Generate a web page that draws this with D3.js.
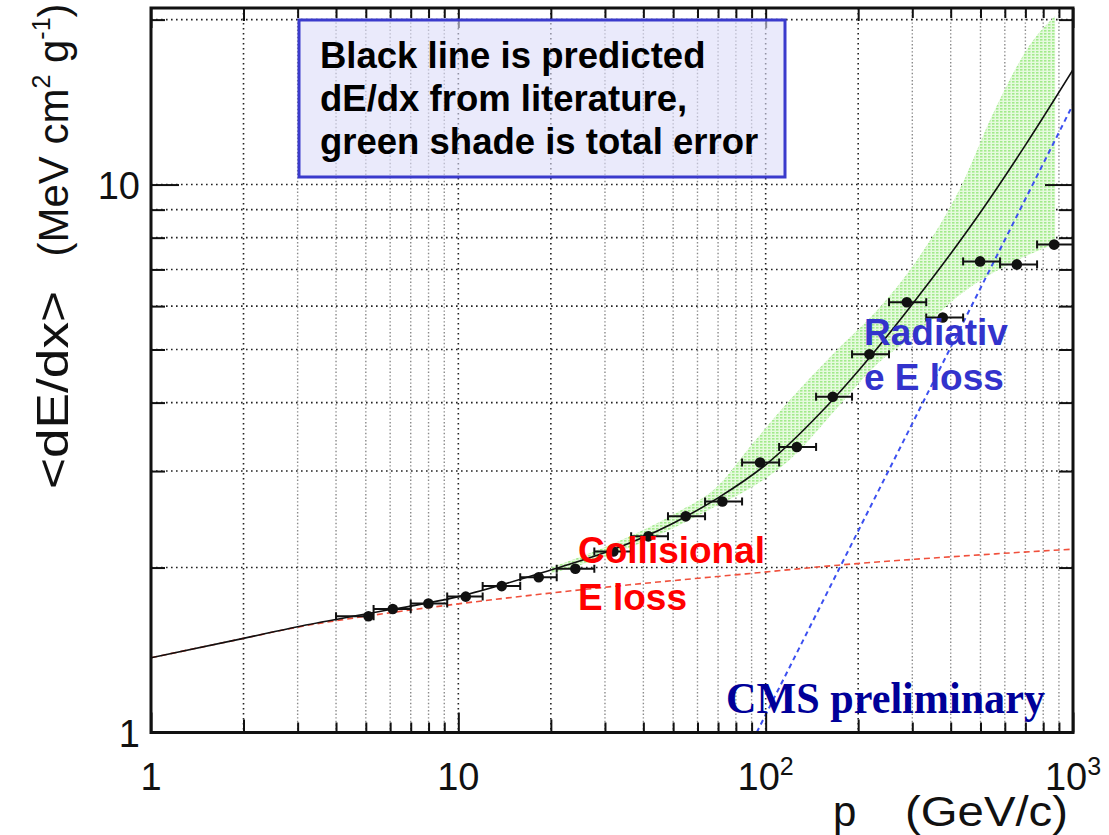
<!DOCTYPE html>
<html><head><meta charset="utf-8">
<script src="https://cdn.jsdelivr.net/npm/d3@7"></script>
<style>
  body { margin: 0; background: #fff; }
  svg { display: block; font-family: "Liberation Sans", Arial, Helvetica, sans-serif; }
</style>
</head><body>
<svg id="chart" width="1109" height="835"></svg>
<script>
// Measured mean energy loss per momentum bin (p in GeV/c, <dE/dx> in MeV cm^2 g^-1)
const binLow  = [4.0, 5.3, 7.0, 9.2, 12.0, 15.9, 20.9, 27.7, 36.5, 48.1, 63.5, 83.8, 110.6, 145.9, 191, 252, 333, 439, 579, 764];
const binHigh = [5.3, 7.0, 9.2, 12.0, 15.9, 20.9, 27.7, 36.5, 48.1, 63.5, 83.8, 110.6, 145.9, 191, 252, 333, 439, 579, 764, 1000];
const pMean   = [5.10, 6.12, 7.99, 10.57, 13.84, 18.26, 24.03, 31.94, 41.52, 54.95, 72.3, 95.9, 126.3, 165.3, 217.6, 287.9, 376.9, 498.6, 656.5, 868];
const dedxMeas = [1.63, 1.68, 1.72, 1.77, 1.85, 1.92, 1.99, 2.14, 2.28, 2.48, 2.64, 3.11, 3.32, 4.10, 4.90, 6.10, 5.72, 7.24, 7.15, 7.77];

// Predicted total dE/dx from literature
const pTotal    = [1, 2, 3, 5, 10, 20, 30, 50, 70, 100, 150, 200, 300, 500, 700, 1000];
const dedxTotal = [1.369, 1.485, 1.56, 1.645, 1.77, 1.98, 2.13, 2.41, 2.68, 3.08, 3.82, 4.57, 6.05, 8.9, 11.8, 16.2];

// Collisional component
const pColl    = [1, 2, 3, 5, 10, 20, 36, 89, 172, 500, 1000];
const dedxColl = [1.369, 1.485, 1.557, 1.63, 1.717, 1.797, 1.86, 1.951, 2.02, 2.11, 2.161];

// Radiative component (straight in log-log)
const pRad    = [93.5, 1000];
const dedxRad = [1.0, 14.0];

// Total error band around the prediction
const bandP  = [20, 30, 50, 70, 90, 120, 170, 230, 310, 430, 550, 740, 875];
const bandLo = [1.95, 2.09, 2.36, 2.6, 2.8, 3.15, 3.9, 4.7, 5.35, 6.3, 6.9, 7.5, 7.8];
const bandHi = [2.00, 2.18, 2.50, 2.82, 3.35, 4.05, 4.98, 5.89, 7.27, 9.87, 13.5, 18.3, 20.3];

// Axis ticks
const xMajor = [1, 10, 100, 1000];
const xMid   = [2, 20, 200];
const xMinor = [3, 4, 5, 6, 7, 8, 9, 30, 40, 50, 60, 70, 80, 90, 300, 400, 500, 600, 700, 800, 900];
const yMajor = [10];
const yMinor = [2, 3, 4, 5, 6, 7, 8, 9, 20];
const xTickLabels = [{v: 1, base: "1", exp: ""}, {v: 10, base: "10", exp: ""}, {v: 100, base: "10", exp: "2"}, {v: 1000, base: "10", exp: "3"}];
const yTickLabels = [{v: 1, t: "1"}, {v: 10, t: "10"}];

const svg = d3.select("#chart");
const L = 151, R = 1073, T = 8, B = 732.5;
const x = d3.scaleLog().domain([1, 1000]).range([L, R]);
const y = d3.scaleLog().domain([1, 21]).range([B, T]);

const defs = svg.append("defs");
defs.append("clipPath").attr("id", "plotClip")
  .append("rect").attr("x", L).attr("y", T).attr("width", R - L).attr("height", B - T);
const pat = defs.append("pattern").attr("id", "greenShade")
  .attr("width", 4).attr("height", 3).attr("patternUnits", "userSpaceOnUse");
pat.append("rect").attr("width", 4).attr("height", 3).attr("fill", "#e6fade");
pat.append("rect").attr("width", 2.5).attr("height", 1.6).attr("fill", "#a2ea8c");

const plot = svg.append("g").attr("clip-path", "url(#plotClip)");

// Grid lines
const darkX = new Set([2, 10, 20, 100, 200]);
const xGrid = xMid.concat(xMinor, [10, 100]);
plot.append("g").selectAll("line").data(xGrid).join("line")
  .attr("x1", d => x(d)).attr("x2", d => x(d)).attr("y1", T).attr("y2", B)
  .attr("stroke", d => darkX.has(d) ? "#222" : "#8a8a8a")
  .attr("stroke-width", d => darkX.has(d) ? 1.6 : 1.4)
  .attr("stroke-dasharray", d => darkX.has(d) ? "1.6,3.4" : "1.4,2.2");
plot.append("g").selectAll("line").data(yMinor.concat(yMajor)).join("line")
  .attr("x1", L).attr("x2", R).attr("y1", d => y(d)).attr("y2", d => y(d))
  .attr("stroke", "#222").attr("stroke-width", 1.6).attr("stroke-dasharray", "1.6,3.4");

// Error band
const bandData = bandP.map((p, i) => ({p, lo: bandLo[i], hi: bandHi[i]}));
plot.append("path").datum(bandData)
  .attr("d", d3.area().x(d => x(d.p)).y0(d => y(d.lo)).y1(d => y(d.hi)).curve(d3.curveMonotoneX))
  .attr("fill", "url(#greenShade)");

// Components and prediction
const lineGen = d3.line().x(d => x(d[0])).y(d => y(d[1])).curve(d3.curveMonotoneX);
plot.append("path").datum(pColl.map((p, i) => [p, dedxColl[i]]))
  .attr("d", lineGen).attr("fill", "none").attr("stroke", "#f0503c")
  .attr("stroke-width", 1.6).attr("stroke-dasharray", "6,4");
plot.append("path").datum(pRad.map((p, i) => [p, dedxRad[i]]))
  .attr("d", lineGen).attr("fill", "none").attr("stroke", "#3c50f0")
  .attr("stroke-width", 2).attr("stroke-dasharray", "5,4");
plot.append("path").datum(pTotal.map((p, i) => [p, dedxTotal[i]]))
  .attr("d", lineGen).attr("fill", "none").attr("stroke", "#111").attr("stroke-width", 1.6);

// Measured points with bin-width error bars
const pts = pMean.map((p, i) => ({p, v: dedxMeas[i], lo: binLow[i], hi: binHigh[i]}));
const pg = plot.append("g").attr("stroke", "#111").attr("stroke-width", 2);
pg.selectAll("line.bar").data(pts).join("line").attr("class", "bar")
  .attr("x1", d => x(d.lo)).attr("x2", d => x(d.hi)).attr("y1", d => y(d.v)).attr("y2", d => y(d.v));
pg.selectAll("line.capl").data(pts).join("line").attr("class", "capl")
  .attr("x1", d => x(d.lo)).attr("x2", d => x(d.lo)).attr("y1", d => y(d.v) - 4).attr("y2", d => y(d.v) + 4);
pg.selectAll("line.caph").data(pts).join("line").attr("class", "caph")
  .attr("x1", d => x(d.hi)).attr("x2", d => x(d.hi)).attr("y1", d => y(d.v) - 4).attr("y2", d => y(d.v) + 4);
plot.append("g").selectAll("circle").data(pts).join("circle")
  .attr("cx", d => x(d.p)).attr("cy", d => y(d.v)).attr("r", 5.3).attr("fill", "#111");

// Axis ticks (pointing inward on all four sides)
function ticks(axisFn, scale, vals, size, transform) {
  const g = svg.append("g").attr("transform", transform)
    .call(axisFn(scale).tickValues(vals).tickSize(size).tickFormat(""));
  g.select(".domain").remove();
  g.selectAll(".tick line").attr("stroke", "#111").attr("stroke-width", 2);
}
ticks(d3.axisBottom, x, xMajor, -20, `translate(0,${B})`);
ticks(d3.axisBottom, x, xMid, -13, `translate(0,${B})`);
ticks(d3.axisBottom, x, xMinor, -10, `translate(0,${B})`);
ticks(d3.axisTop, x, xMajor, -20, `translate(0,${T})`);
ticks(d3.axisTop, x, xMid, -13, `translate(0,${T})`);
ticks(d3.axisTop, x, xMinor, -10, `translate(0,${T})`);
ticks(d3.axisLeft, y, yMajor, -28, `translate(${L},0)`);
ticks(d3.axisLeft, y, yMinor, -14, `translate(${L},0)`);
ticks(d3.axisRight, y, yMajor, -28, `translate(${R},0)`);
ticks(d3.axisRight, y, yMinor, -14, `translate(${R},0)`);

// Frame
svg.append("rect").attr("x", L).attr("y", T).attr("width", R - L).attr("height", B - T)
  .attr("fill", "none").attr("stroke", "#111").attr("stroke-width", 3);

// Tick labels
xTickLabels.forEach(d => {
  const t = svg.append("text").attr("x", x(d.v)).attr("y", 790).attr("text-anchor", "middle")
    .attr("font-size", 38).attr("fill", "#111");
  t.append("tspan").text(d.base);
  if (d.exp) t.append("tspan").attr("font-size", 25).attr("dy", -15).text(d.exp);
});
yTickLabels.forEach(d => {
  svg.append("text").attr("x", 140).attr("y", y(d.v) + 14).attr("text-anchor", "end")
    .attr("font-size", 38).attr("fill", "#111").text(d.t);
});

// Axis titles
svg.append("text").attr("x", 833).attr("y", 826).attr("font-size", 42).attr("fill", "#111").text("p");
svg.append("text").attr("x", 905).attr("y", 826).attr("font-size", 42).attr("fill", "#111")
  .attr("textLength", 163).attr("lengthAdjust", "spacingAndGlyphs").text("(GeV/c)");

svg.append("text").attr("transform", "translate(68,390) rotate(-90)").attr("text-anchor", "middle")
  .attr("font-size", 44).attr("fill", "#111")
  .attr("textLength", 198).attr("lengthAdjust", "spacingAndGlyphs").text("<dE/dx>");
const yt = svg.append("text").attr("transform", "translate(68,130) rotate(-90)").attr("text-anchor", "middle")
  .attr("font-size", 42).attr("fill", "#111");
yt.append("tspan").text("(MeV cm");
yt.append("tspan").attr("font-size", 25).attr("dy", -18).text("2");
yt.append("tspan").attr("dy", 18).text("\u00a0g");
yt.append("tspan").attr("font-size", 25).attr("dy", -18).text("-1");
yt.append("tspan").attr("dy", 18).text(")");

// Note box
svg.append("rect").attr("x", 299).attr("y", 20).attr("width", 486).attr("height", 157)
  .attr("fill", "#dcdcf8").attr("fill-opacity", 0.6).attr("stroke", "#3a3acc").attr("stroke-width", 3);
const noteLines = ["Black line is predicted", "dE/dx from literature,", "green shade is total error"];
svg.append("g").selectAll("text").data(noteLines).join("text")
  .attr("x", 320).attr("y", (d, i) => 68 + i * 43).attr("font-size", 36.5).attr("font-weight", "bold")
  .attr("fill", "#000").text(d => d);

// Component labels
[["Collisional", 563], ["E loss", 610]].forEach(([t, yy]) =>
  svg.append("text").attr("x", 578).attr("y", yy).attr("font-size", 37).attr("font-weight", "bold")
    .attr("fill", "#ff0000").text(t));
[["Radiativ", 345], ["e E loss", 390]].forEach(([t, yy]) =>
  svg.append("text").attr("x", 864).attr("y", yy).attr("font-size", 37).attr("font-weight", "bold")
    .attr("fill", "#3333cc").text(t));

svg.append("text").attr("x", 726).attr("y", 713)
  .attr("font-family", "'Liberation Serif', 'Times New Roman', serif")
  .attr("font-size", 44).attr("font-weight", "bold").attr("fill", "#000099")
  .attr("textLength", 319).attr("lengthAdjust", "spacingAndGlyphs").text("CMS preliminary");
</script>
</body></html>
